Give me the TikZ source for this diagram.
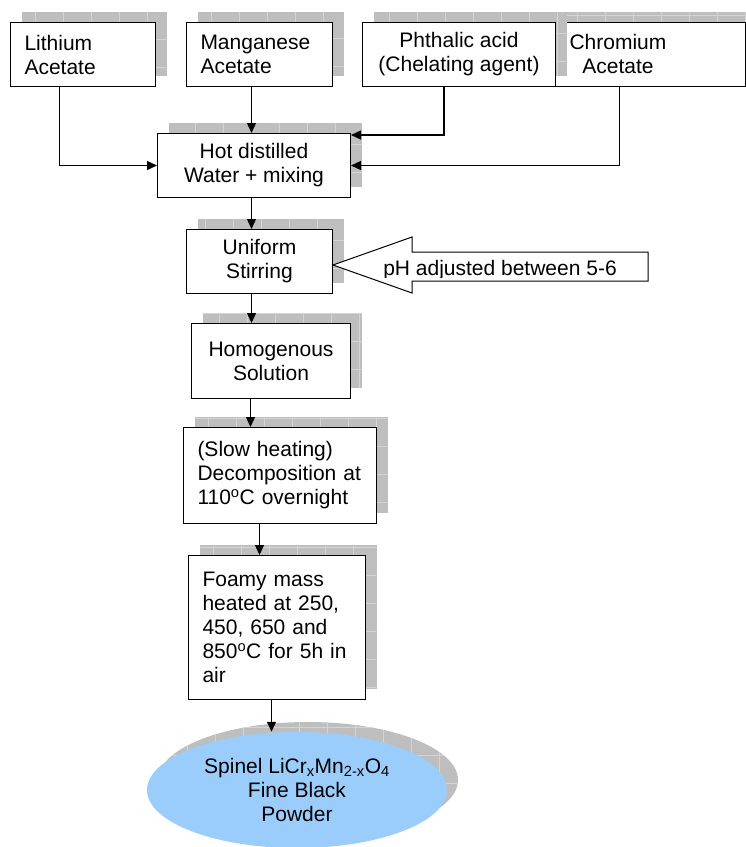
\documentclass[tikz,border=0pt]{standalone}
\usepackage{fontspec}
\setmainfont{Liberation Sans}
\usetikzlibrary{arrows.meta,shadows,shapes.geometric}
\definecolor{shgray}{RGB}{190,190,190}
\definecolor{gridgray}{RGB}{212,212,212}
\definecolor{powderblue}{RGB}{155,205,252}
\begin{document}
\begin{tikzpicture}[x=1pt,y=-1pt,
  every node/.style={font=\fontsize{21}{24}\selectfont},
  texshadow/.style={fill=shgray, draw=none,
    path picture={\draw[gridgray, line width=0.6pt, step=28pt]
      (path picture bounding box.south west) grid (path picture bounding box.north east);}},
  procbox/.style={draw=black, line width=1pt, fill=white, rectangle,
    inner ysep=0pt, inner xsep=14pt, anchor=north west,
    general shadow={shadow xshift=11pt, shadow yshift=11pt, texshadow}},
  leftbox/.style={procbox, align=left},
  centbox/.style={procbox, align=center},
  flow/.style={line width=1.3pt, -{Triangle[length=10pt,width=9pt]}},
  hollowarrow/.style={draw=black, line width=1pt, fill=white}]
\useasboundingbox (0,0) rectangle (746,847);

% top row
\node[leftbox, minimum width=145pt, minimum height=64pt, text width=117pt] (lith) at (10,22) {Lithium\\Acetate};
\node[leftbox, minimum width=146pt, minimum height=64pt, text width=118pt] (mang) at (186,22) {Manganese\\Acetate};
\node[procbox, minimum width=190pt, minimum height=64pt] (chrom) at (555,22) {};
\node[align=center, inner sep=0pt] (chromtxt) at (618,54) {Chromium\\Acetate};
\node[centbox, minimum width=193pt, minimum height=64pt] (phth) at (362,22) {Phthalic acid\\(Chelating agent)};

% main column
\node[centbox, minimum width=193pt, minimum height=64pt] (hot) at (157,133) {Hot distilled\\Water + mixing};
\node[centbox, minimum width=146pt, minimum height=64pt] (unif) at (186,229) {Uniform\\Stirring};
\node[centbox, minimum width=159pt, minimum height=75pt] (homog) at (191,323) {Homogenous\\Solution};
\node[leftbox, minimum width=193pt, minimum height=96pt, text width=165pt] (slow) at (183,427)
  {(Slow heating)\\\mbox{Decomposition at}\\110\textsuperscript{o}C overnight};
\node[leftbox, minimum width=177pt, minimum height=144pt, text width=149pt] (foam) at (188,555)
  {Foamy mass\\\mbox{heated at 250,}\\450, 650 and\\\mbox{850\textsuperscript{o}C for 5h in}\\air};
\node[ellipse, fill=powderblue, draw=none, minimum width=300pt, minimum height=116pt, inner sep=0pt, align=center,
  general shadow={shadow xshift=11pt, shadow yshift=10pt, texshadow}] (spinel) at (297,790)
  {Spinel LiCr\textsubscript{x}Mn\textsubscript{2-x}O\textsubscript{4}\\Fine Black\\Powder};

% pH hollow arrow
\coordinate (phtip) at (333,265);
\draw[hollowarrow] (phtip) -- (412,237) -- (412,252) -- (648,252) -- (648,281) -- (412,281) -- (412,293) -- cycle;
\begin{scope}
  \clip (380,250) rectangle (640,277);
  \node[anchor=base, inner sep=0pt] (ph) at (500,275) {pH adjusted between 5-6};
\end{scope}

% connectors
\draw[flow] ([xshift=-23.5pt]lith.south) |- (hot.west);
\draw[flow] ([xshift=-2.5pt]hot.north |- mang.south) -- ([xshift=-2.5pt]hot.north);
\draw[flow] ([xshift=-15pt]phth.south) |- ([yshift=-2pt]hot.north east);
\draw[flow] ([xshift=-31pt]chrom.south) |- (hot.east);
\draw[flow] ([xshift=-2.5pt]hot.south) -- ([xshift=-2.5pt]hot.south |- unif.north);
\draw[flow] ([xshift=-2.5pt]hot.south |- unif.south) -- ([xshift=-2.5pt]hot.south |- homog.north);
\draw[flow] ([xshift=-3.5pt]hot.south |- homog.south) -- ([xshift=-3.5pt]hot.south |- slow.north);
\draw[flow] ([xshift=-20.5pt]slow.south) -- ([xshift=-20.5pt]slow.south |- foam.north);
\draw[flow] ([xshift=-5.5pt]foam.south) -- ([xshift=-5.5pt]foam.south |- spinel.north);
\end{tikzpicture}
\end{document}
